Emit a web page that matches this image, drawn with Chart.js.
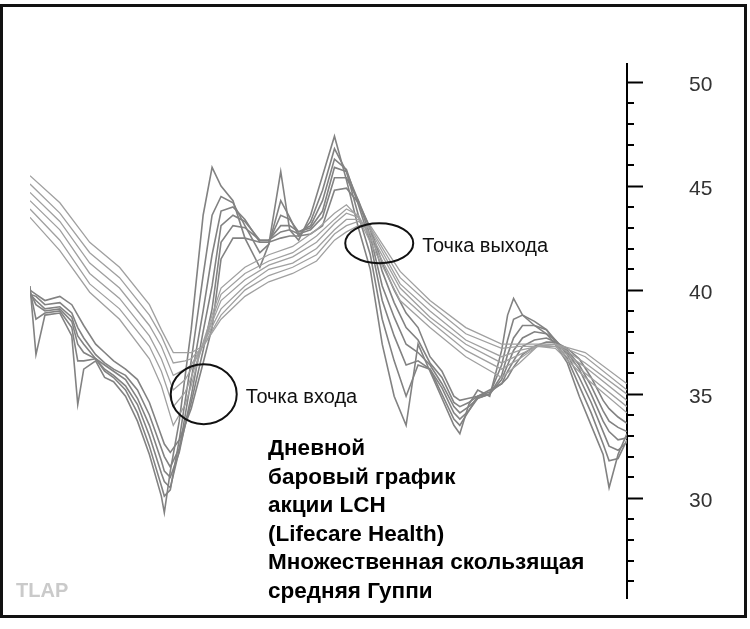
<!DOCTYPE html>
<html>
<head>
<meta charset="utf-8">
<script src="https://cdn.jsdelivr.net/npm/chart.js@4/dist/chart.umd.min.js"></script>
<style>
  body { margin: 0; background: #fff; }
  #wrap { position: relative; width: 750px; height: 629px; }
</style>
</head>
<body>
<div id="wrap"><canvas id="gmma" width="750" height="629"></canvas></div>
<script>
// Guppy multiple moving averages, LCH daily bars

// short-term group (trading days on the x axis)
const shortDays = [0, 1, 2.5, 5, 7, 8, 9, 11, 12.5, 14, 16, 18, 20, 22, 22.5, 23.5, 25, 27, 29, 30.5,
  32, 34, 36, 38.5, 40, 42, 43.5, 45, 47, 49, 51, 53, 55, 57, 59, 61, 63, 65, 67, 69,
  71, 72, 73.5, 75, 77, 79, 80, 81, 82.5, 84.5, 86.5, 88, 90, 92, 94, 96, 97, 98.5, 100];
const short3 = [40.2, 36.9, 38.8, 38.9, 37.8, 34.5, 36.2, 36.6, 35.8, 35.6, 34.9, 33.7, 32.1, 30.1, 29.3, 31.3, 33.7, 38.1, 43.6, 45.9,
  45.0, 44.3, 42.5, 41.1, 42.2, 45.7, 42.9, 42.4, 43.6, 45.5, 47.4, 45.3, 43.0, 41.0, 37.4, 34.9, 33.5, 37.4, 36.1, 34.8,
  33.5, 33.1, 34.5, 35.2, 34.9, 37.1, 38.8, 39.6, 38.8, 38.3, 37.9, 37.4, 36.5, 34.9, 33.5, 32.1, 30.5, 32.1, 33.1];
const short5 = [40.0, 38.6, 38.9, 39.0, 38.2, 36.6, 36.6, 36.7, 36.1, 35.8, 35.2, 34.1, 32.5, 30.6, 30.1, 30.4, 32.8, 36.6, 40.7, 43.6,
  44.5, 44.2, 43.1, 41.8, 42.2, 44.3, 43.5, 42.6, 43.3, 44.8, 46.8, 45.7, 43.6, 41.7, 38.6, 36.6, 34.9, 36.4, 36.2, 35.0,
  33.8, 33.5, 34.2, 34.9, 35.0, 36.4, 37.6, 38.6, 38.8, 38.5, 38.1, 37.5, 36.7, 35.4, 34.1, 32.6, 31.8, 31.9, 32.8];
const short8 = [39.9, 39.3, 39.0, 39.1, 38.5, 37.4, 37.0, 36.7, 36.2, 35.9, 35.4, 34.5, 33.0, 31.2, 30.8, 30.5, 32.3, 35.7, 39.0, 41.7,
  43.8, 44.0, 43.4, 42.3, 42.3, 43.6, 43.4, 42.8, 43.1, 44.3, 46.3, 45.8, 44.1, 42.3, 39.5, 37.8, 36.4, 36.6, 36.2, 35.3,
  34.1, 33.8, 34.2, 34.8, 35.0, 35.9, 36.9, 37.7, 38.3, 38.3, 38.1, 37.6, 36.9, 35.8, 34.6, 33.2, 32.5, 32.3, 32.7];
const short10 = [39.8, 39.5, 39.1, 39.2, 38.7, 37.8, 37.4, 36.7, 36.4, 36.1, 35.7, 34.8, 33.5, 31.8, 31.3, 31.0, 32.2, 34.9, 38.0, 40.2,
  43.1, 43.6, 43.3, 42.4, 42.4, 43.1, 43.1, 42.8, 43.0, 43.8, 45.9, 45.7, 44.3, 42.6, 40.2, 38.7, 37.4, 37.0, 36.4, 35.5,
  34.4, 34.1, 34.4, 34.8, 35.0, 35.7, 36.4, 37.1, 37.7, 38.0, 37.9, 37.6, 37.0, 36.2, 35.0, 33.7, 33.2, 32.8, 32.9];
const short12 = [39.8, 39.7, 39.3, 39.4, 38.9, 38.2, 37.7, 36.9, 36.5, 36.2, 35.9, 35.2, 34.0, 32.4, 32.0, 31.5, 32.4, 34.6, 37.1, 39.1,
  42.3, 43.1, 43.0, 42.4, 42.4, 42.8, 42.9, 42.7, 42.9, 43.5, 45.4, 45.4, 44.3, 42.9, 40.9, 39.4, 38.2, 37.6, 36.5, 35.8,
  34.6, 34.4, 34.6, 34.9, 35.1, 35.5, 36.1, 36.6, 37.3, 37.6, 37.7, 37.5, 37.1, 36.4, 35.4, 34.2, 33.7, 33.4, 33.2];
const short15 = [40.0, 39.8, 39.5, 39.7, 39.3, 38.8, 38.3, 37.4, 37.0, 36.6, 36.2, 35.7, 34.6, 33.0, 32.6, 32.2, 32.8, 34.3, 36.5, 38.2,
  41.5, 42.5, 42.5, 42.3, 42.3, 42.5, 42.6, 42.6, 42.7, 43.1, 44.8, 44.9, 44.2, 43.0, 41.3, 40.0, 38.9, 38.2, 36.8, 36.1,
  34.9, 34.7, 34.8, 34.9, 35.2, 35.5, 35.8, 36.3, 36.9, 37.3, 37.5, 37.5, 37.2, 36.7, 35.8, 34.7, 34.3, 33.9, 33.6];

// long-term group
const longDays = [0, 5, 10, 15, 20, 22, 24, 26, 27, 29, 32, 36, 40, 44, 48, 51, 53, 55, 57, 62, 67, 73, 79, 82, 85, 88, 93, 100];
const long30 = [43.5, 41.9, 39.9, 38.6, 36.7, 35.4, 33.5, 34.5, 35.4, 37.5, 40.1, 41.1, 41.7, 42.1, 42.9, 43.7, 44.1, 43.5, 42.3, 39.5, 38.2, 36.8, 35.8, 36.5, 37.3, 37.2, 35.8, 34.1];
const long35 = [43.9, 42.4, 40.3, 39.1, 37.3, 36.1, 34.4, 35.1, 35.8, 37.4, 39.8, 40.8, 41.4, 41.8, 42.6, 43.4, 43.9, 43.6, 42.5, 39.8, 38.5, 37.1, 36.2, 36.7, 37.3, 37.3, 36.0, 34.4];
const long40 = [44.3, 42.9, 40.8, 39.6, 37.8, 36.7, 35.2, 35.7, 36.2, 37.4, 39.5, 40.5, 41.2, 41.6, 42.3, 43.2, 43.7, 43.5, 42.7, 40.1, 38.7, 37.4, 36.5, 36.9, 37.3, 37.3, 36.3, 34.7];
const long45 = [44.7, 43.3, 41.3, 40.1, 38.3, 37.3, 35.9, 36.2, 36.4, 37.4, 39.1, 40.2, 41.0, 41.3, 42.0, 42.9, 43.4, 43.4, 42.9, 40.3, 39.0, 37.6, 36.8, 37.1, 37.3, 37.4, 36.5, 35.0];
const long50 = [45.1, 43.7, 41.8, 40.6, 38.8, 37.8, 36.5, 36.6, 36.7, 37.3, 38.8, 40.0, 40.7, 41.1, 41.7, 42.7, 43.1, 43.3, 43.0, 40.6, 39.3, 37.9, 37.2, 37.3, 37.3, 37.4, 36.8, 35.2];
const long60 = [45.5, 44.2, 42.3, 41.1, 39.3, 38.1, 37.0, 37.0, 37.0, 37.3, 38.6, 39.7, 40.4, 40.8, 41.4, 42.4, 42.8, 43.1, 43.1, 40.9, 39.5, 38.2, 37.4, 37.4, 37.4, 37.4, 37.0, 35.5];

const majorTicks = [30, 35, 40, 45, 50];
const captionLines = ['Дневной', 'баровый график', 'акции LCH', '(Lifecare Health)', 'Множественная скользящая', 'средняя Гуппи'];

// crossover marks: where on the chart (day, price) and how big the ellipse is
const notes = [
  { day: 29.1, price: 35.0, rx: 33, ry: 30, text: 'Точка входа' },
  { day: 58.5, price: 42.25, rx: 34, ry: 20, text: 'Точка выхода' }
];

function toPoints(days, values) {
    return days.map((d, i) => ({ x: d, y: values[i] }));
}

function lineSet(days, values, color, width) {
    return {
        data: toPoints(days, values),
        borderColor: color,
        borderWidth: width,
        pointRadius: 0,
        tension: 0,
        fill: false
    };
}

const longColor = '#a0a0a0';
const shortColor = '#828282';

const datasets = [
    lineSet(longDays, long30, longColor, 1.3),
    lineSet(longDays, long35, longColor, 1.3),
    lineSet(longDays, long40, longColor, 1.3),
    lineSet(longDays, long45, longColor, 1.3),
    lineSet(longDays, long50, longColor, 1.3),
    lineSet(longDays, long60, longColor, 1.3),
    lineSet(shortDays, short3, shortColor, 1.6),
    lineSet(shortDays, short5, shortColor, 1.6),
    lineSet(shortDays, short8, shortColor, 1.6),
    lineSet(shortDays, short10, shortColor, 1.6),
    lineSet(shortDays, short12, shortColor, 1.6),
    lineSet(shortDays, short15, shortColor, 1.6)
];

// minor ticks, ellipses, captions and the frame
const decor = {
    id: 'decor',
    afterDraw(chart) {
        const ctx = chart.ctx;
        const xs = chart.scales.x;
        const ys = chart.scales.y;
        ctx.save();

        // minor ticks every 1.0
        ctx.strokeStyle = '#000';
        ctx.lineWidth = 2;
        for (let v = Math.ceil(ys.min); v <= Math.floor(ys.max); v++) {
            if (majorTicks.includes(v)) continue;
            const py = Math.round(ys.getPixelForValue(v));
            ctx.beginPath();
            ctx.moveTo(ys.left, py);
            ctx.lineTo(ys.left + 7, py);
            ctx.stroke();
        }

        // entry / exit ellipses
        notes.forEach(n => {
            const cx = xs.getPixelForValue(n.day);
            const cy = ys.getPixelForValue(n.price);
            ctx.beginPath();
            ctx.ellipse(cx, cy, n.rx, n.ry, 0, 0, Math.PI * 2);
            ctx.lineWidth = 2;
            ctx.strokeStyle = '#111';
            ctx.stroke();
            ctx.fillStyle = '#111';
            ctx.font = '20px "Liberation Sans", Arial, sans-serif';
            ctx.textBaseline = 'middle';
            ctx.textAlign = 'left';
            ctx.fillText(n.text, cx + n.rx + 9, cy + 3);
        });

        // caption block
        ctx.fillStyle = '#000';
        ctx.font = 'bold 22.5px "Liberation Sans", Arial, sans-serif';
        ctx.textBaseline = 'alphabetic';
        captionLines.forEach((t, i) => ctx.fillText(t, 268, 455 + i * 28.5));

        // watermark
        ctx.fillStyle = '#cacaca';
        ctx.font = 'bold 20px "Liberation Sans", Arial, sans-serif';
        ctx.fillText('TLAP', 16, 597);

        // outer frame
        ctx.strokeStyle = '#111';
        ctx.lineWidth = 3;
        ctx.strokeRect(1.5, 5.5, 744, 611);
        ctx.restore();
    }
};

const chart = new Chart(document.getElementById('gmma'), {
    type: 'line',
    data: { datasets: datasets },
    options: {
        responsive: false,
        animation: false,
        events: [],
        layout: { padding: { left: 30, right: 0, top: 64, bottom: 31 } },
        plugins: { legend: { display: false }, tooltip: { enabled: false } },
        scales: {
            x: { type: 'linear', display: false, min: 0, max: 100 },
            y: {
                position: 'right',
                min: 25.2,
                max: 50.87,
                afterFit: s => {
                    s.width = 123;
                    s.paddingTop = 0;
                    s.paddingBottom = 0;
                },
                border: { color: '#000', width: 2 },
                grid: {
                    drawOnChartArea: false,
                    tickLength: 16,
                    tickWidth: 2,
                    tickColor: c => majorTicks.includes(c.tick.value) ? '#000' : 'rgba(0,0,0,0)'
                },
                ticks: {
                    stepSize: 1,
                    includeBounds: false,
                    autoSkip: false,
                    padding: 46,
                    labelOffset: 3,
                    color: '#333',
                    font: { family: '"Liberation Sans", Arial, sans-serif', size: 21 },
                    callback: v => majorTicks.includes(v) ? String(v) : ''
                }
            }
        }
    },
    plugins: [decor]
});
</script>
</body>
</html>
